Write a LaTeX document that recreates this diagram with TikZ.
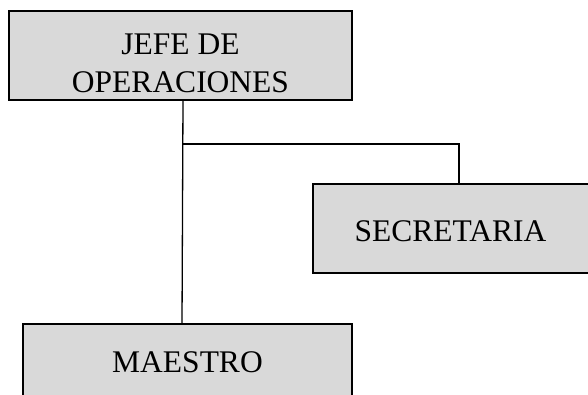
\documentclass[tikz,border=0pt]{standalone}
\usepackage{fontspec}
\setmainfont{Liberation Serif}
\begin{document}
\begin{tikzpicture}[x=1pt,y=-1pt,
  box/.style={draw=black, line width=2pt, fill=boxgray, inner sep=0pt,
    font=\fontsize{31.5}{38}\selectfont, align=center, text depth=0pt},
  conn/.style={draw=black, line width=1.3pt}]
\definecolor{boxgray}{HTML}{D9D9D9}
\useasboundingbox (0,0) rectangle (588,394);
\clip (0,0) rectangle (588,394);
\node[box, minimum width=343pt, minimum height=89pt, text height=73pt] (jefe) at (180.5,55.5) {JEFE DE\\OPERACIONES};
\node[box, minimum width=276pt, minimum height=89pt, text height=25pt] (sec) at (450.5,228.5) {SECRETARIA};
\node[box, minimum width=329pt, minimum height=76pt] (mae) at (187.5,362) {MAESTRO};
\coordinate (top) at (183,100);
\coordinate (j) at (183,144);
\coordinate (bot) at (182,324);
\coordinate (sa) at (459,184);
\draw[conn] (top) -- (bot);
\draw[conn] (j) -| (sa);
\end{tikzpicture}
\end{document}
